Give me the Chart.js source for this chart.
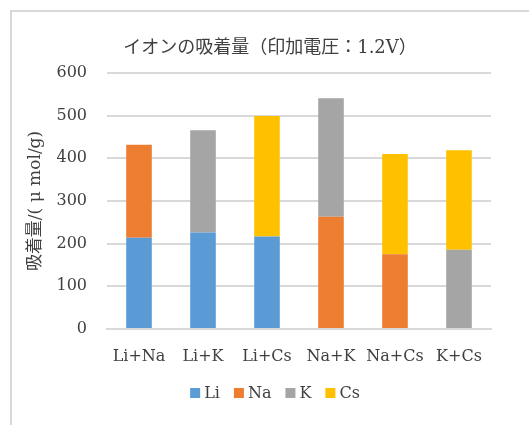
<!DOCTYPE html>
<html>
<head>
<meta charset="utf-8">
<script src="https://cdn.jsdelivr.net/npm/chart.js@4"></script>
<style>
  html, body { margin: 0; padding: 0; background: #fff; }
  #wrap { width: 529px; height: 425px; position: relative; }
</style>
</head>
<body>
<div id="wrap"><canvas id="c" width="529" height="425"></canvas></div>
<script>
// Ion pairs and adsorbed amount of each ion (µmol/g)
const categories = ['Li+Na', 'Li+K', 'Li+Cs', 'Na+K', 'Na+Cs', 'K+Cs'];
const seriesNames = ['Li', 'Na', 'K', 'Cs'];
const liValues = [214, 226, 217, null, null, null];
const naValues = [218, null, null, 263, 175, null];
const kValues  = [null, 240, null, 278, null, 186];
const csValues = [null, null, 282, null, 235, 233];
const yTicks = [0, 100, 200, 300, 400, 500, 600];
const chartTitle = 'イオンの吸着量（印加電圧：1.2V）';

const seriesColors = ['#5B9BD5', '#ED7D31', '#A5A5A5', '#FFC000'];
const serif = '"DejaVu Serif", "Noto Sans CJK JP", serif';
const textColor = '#404040';
const gridColor = '#d9d9d9';

// Frame (top and left edges), heading and a compact legend row under the axis
const decorPlugin = {
  id: 'decor',
  beforeDraw(chart) {
    const ctx = chart.ctx;
    ctx.save();
    ctx.strokeStyle = gridColor;
    ctx.lineWidth = 2;
    ctx.beginPath();
    ctx.moveTo(11, chart.height);
    ctx.lineTo(11, 11);
    ctx.lineTo(chart.width, 11);
    ctx.stroke();
    ctx.fillStyle = textColor;
    ctx.font = '18px ' + serif;
    ctx.textAlign = 'center';
    ctx.textBaseline = 'middle';
    ctx.fillText(chartTitle, 270, 48);
    ctx.restore();
  },
  afterDraw(chart) {
    const ctx = chart.ctx;
    ctx.save();
    ctx.font = '16px ' + serif;
    ctx.textBaseline = 'middle';
    ctx.textAlign = 'left';
    const box = 10, boxGap = 4, itemGap = 14, cy = 393;
    const items = chart.data.datasets.map(d => ({
      label: d.label, color: d.backgroundColor, w: ctx.measureText(d.label).width
    }));
    const total = items.reduce((s, it) => s + box + boxGap + it.w, 0) + itemGap * (items.length - 1);
    let x = 275 - total / 2;
    items.forEach(it => {
      ctx.fillStyle = it.color;
      ctx.fillRect(x, cy - box / 2, box, box);
      ctx.fillStyle = textColor;
      ctx.fillText(it.label, x + box + boxGap, cy + 1);
      x += box + boxGap + it.w + itemGap;
    });
    ctx.restore();
  }
};

const seriesValues = [liValues, naValues, kValues, csValues];

new Chart(document.getElementById('c'), {
  type: 'bar',
  data: {
    labels: categories,
    datasets: seriesNames.map((name, i) => ({
      label: name,
      data: seriesValues[i],
      backgroundColor: seriesColors[i],
      borderWidth: 0,
      barPercentage: 0.4,
      categoryPercentage: 1.0
    }))
  },
  options: {
    responsive: false,
    animation: false,
    layout: { padding: { left: 25, right: 38, top: 73, bottom: 48 } },
    plugins: {
      tooltip: { enabled: false },
      title: { display: false },
      legend: { display: false }
    },
    scales: {
      x: {
        stacked: true,
        grid: { display: false },
        border: { display: true, color: gridColor, width: 2 },
        afterFit(scale) { scale.height = 48; },
        ticks: { color: textColor, font: { family: serif, size: 16 }, padding: 10, maxRotation: 0 }
      },
      y: {
        stacked: true,
        min: 0, max: 600,
        afterBuildTicks(scale) { scale.ticks = yTicks.map(v => ({ value: v })); },
        afterFit(scale) { scale.width = 82; },
        grid: { color: gridColor, lineWidth: 2, drawTicks: false },
        border: { display: false },
        ticks: { color: textColor, font: { family: serif, size: 16 }, padding: 20 },
        title: {
          display: true,
          text: '吸着量/( μ mol/g)',
          color: textColor,
          font: { family: serif, size: 17 },
          padding: { top: 0, bottom: 0 }
        }
      }
    }
  },
  plugins: [decorPlugin]
});
</script>
</body>
</html>
